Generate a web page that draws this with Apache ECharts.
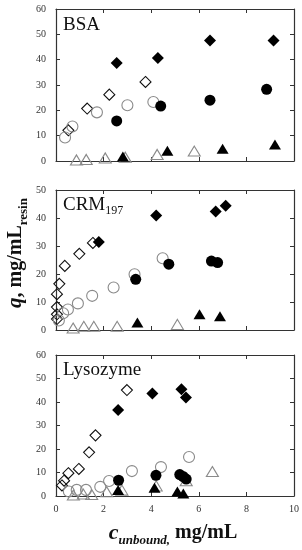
<!DOCTYPE html>
<html>
<head>
<meta charset="utf-8">
<script src="https://cdn.jsdelivr.net/npm/echarts@6/dist/echarts.min.js"></script>
<style>
html,body{margin:0;padding:0;background:#fff;}
#chart{width:302px;height:550px;}
</style>
</head>
<body>
<div id="chart"></div>
<script>
// ---------- data ([c_unbound, q]) ----------
var panelNames = ['BSA', 'CRM', 'Lysozyme'];
var yMaxes = [60, 50, 60];
var xTicks = [0, 2, 4, 6, 8, 10];

// BSA
var bsaOpenDiamond = [[0.52,12.1],[1.31,20.7],[2.24,26.2],[3.76,31.2]];
var bsaFilledDiamond = [[2.55,38.7],[4.28,40.7],[6.47,47.6],[9.14,47.6]];
var bsaOpenCircle = [[0.38,9.3],[0.69,13.6],[1.72,19.2],[3.0,22.0],[4.09,23.3]];
var bsaFilledCircle = [[2.55,15.8],[4.40,21.7],[6.47,24.0],[8.85,28.3]];
var bsaOpenTriangle = [[0.86,0.4],[1.27,0.6],[2.07,1.2],[2.91,1.5],[4.25,2.6],[5.81,3.9]];
var bsaFilledTriangle = [[2.81,1.8],[4.68,4.0],[7.0,4.8],[9.2,6.5]];

// CRM197
var crmOpenDiamond = [[0.04,3.9],[0.04,5.6],[0.04,8.2],[0.04,12.8],[0.14,16.5],[0.37,22.9],[0.98,27.2],[1.55,31.1]];
var crmFilledDiamond = [[1.80,31.4],[4.21,40.9],[6.71,42.3],[7.13,44.4]];
var crmOpenCircle = [[0.12,3.4],[0.3,6.0],[0.5,7.3],[0.92,9.5],[1.52,12.2],[2.42,15.2],[3.3,19.9],[4.48,25.6]];
var crmFilledCircle = [[3.35,18.1],[4.74,23.5],[6.53,24.6],[6.79,24.1]];
var crmOpenTriangle = [[0.72,0.7],[1.17,1.3],[1.59,1.3],[2.57,1.3],[5.1,2.0]];
var crmFilledTriangle = [[3.42,2.7],[6.03,5.6],[6.89,4.9]];

// Lysozyme
var lysOpenDiamond = [[0.25,4.5],[0.34,6.5],[0.52,9.7],[0.96,11.5],[1.39,18.6],[1.66,25.8],[2.98,45.1]];
var lysFilledDiamond = [[2.61,36.6],[4.05,43.6],[5.27,45.4],[5.46,41.9]];
var lysOpenCircle = [[0.54,1.9],[0.87,2.6],[1.26,2.6],[1.86,3.9],[2.23,6.4],[3.19,10.6],[4.41,12.3],[5.59,16.6]];
var lysFilledCircle = [[2.63,6.7],[4.2,8.8],[5.2,9.1],[5.34,8.3],[5.47,7.2]];
var lysOpenTriangle = [[0.73,0.4],[1.15,0.8],[1.5,0.6],[2.13,1.8],[2.77,2.5],[4.21,4.3],[5.47,6.5],[6.57,10.4]];
var lysFilledTriangle = [[2.61,2.6],[4.14,3.5],[5.1,1.9],[5.35,1.1]];

var panels = [
  [bsaOpenDiamond, bsaFilledDiamond, bsaOpenCircle, bsaFilledCircle, bsaOpenTriangle, bsaFilledTriangle],
  [crmOpenDiamond, crmFilledDiamond, crmOpenCircle, crmFilledCircle, crmOpenTriangle, crmFilledTriangle],
  [lysOpenDiamond, lysFilledDiamond, lysOpenCircle, lysFilledCircle, lysOpenTriangle, lysFilledTriangle]
];

// ---------- styling ----------
var SERIF = '"Liberation Serif", "Times New Roman", serif';
var AX = '#333';
var grids = [
  {left: 56, right: 8, top: 9, height: 152},
  {left: 56, right: 8, top: 190, height: 140},
  {left: 56, right: 8, top: 355, height: 141}
];
var markerStyles = [
  {symbol: 'diamond', size: 11, color: 'rgba(255,255,255,0)', border: '#111', bw: 1.1},
  {symbol: 'diamond', size: 12, color: '#000', border: '#000', bw: 0},
  {symbol: 'circle', size: 11, color: 'rgba(255,255,255,0)', border: '#8a8a8a', bw: 1.1},
  {symbol: 'circle', size: 11, color: '#000', border: '#000', bw: 0},
  {symbol: 'triangle', size: [12, 10], color: 'rgba(255,255,255,0)', border: '#8a8a8a', bw: 1.1},
  {symbol: 'triangle', size: [12, 10], color: '#000', border: '#000', bw: 0}
];

var xAxes = [], yAxes = [], series = [];
grids.forEach(function (g, i) {
  g.show = false;
  var tick = {show: true, inside: true, length: 4, lineStyle: {color: AX, width: 1}};
  var line = {show: true, onZero: false, lineStyle: {color: AX, width: 1.2}};
  xAxes.push({
    type: 'value', gridIndex: i, position: 'bottom', min: xTicks[0], max: xTicks[xTicks.length - 1], interval: 2,
    axisLine: line, axisTick: tick, splitLine: {show: false},
    axisLabel: {show: i === 2, color: '#333', fontFamily: SERIF, fontSize: 10, margin: 8}
  });
  xAxes.push({
    type: 'value', gridIndex: i, position: 'top', min: 0, max: 10, interval: 2,
    axisLine: line, axisTick: tick, splitLine: {show: false}, axisLabel: {show: false}
  });
  yAxes.push({
    type: 'value', gridIndex: i, position: 'left', min: 0, max: yMaxes[i], interval: 10,
    axisLine: line, axisTick: tick, splitLine: {show: false},
    axisLabel: {color: '#333', fontFamily: SERIF, fontSize: 10, margin: 10}
  });
  yAxes.push({
    type: 'value', gridIndex: i, position: 'right', min: 0, max: yMaxes[i], interval: 10,
    axisLine: line, axisTick: tick, splitLine: {show: false}, axisLabel: {show: false}
  });
  var order = [0, 2, 4, 1, 3, 5];
  order.forEach(function (k) {
    var m = markerStyles[k];
    series.push({
      type: 'scatter', xAxisIndex: i * 2, yAxisIndex: i * 2,
      data: panels[i][k], symbol: m.symbol, symbolSize: m.size,
      itemStyle: {color: m.color, borderColor: m.border, borderWidth: m.bw, opacity: 1},
      emphasis: {disabled: true}, silent: true
    });
  });
});

var chart = echarts.init(document.getElementById('chart'), null, {renderer: 'canvas'});
chart.setOption({
  animation: false,
  backgroundColor: '#fff',
  grid: grids,
  xAxis: xAxes,
  yAxis: yAxes,
  series: series,
  graphic: [
    {type: 'text', left: 63, top: 16, style: {text: 'BSA', font: '19px ' + SERIF, fill: '#111'}},
    {type: 'text', left: 63, top: 196, style: {
      text: '{a|CRM}{b|197}', fill: '#111',
      rich: {a: {fontFamily: SERIF, fontSize: 19, lineHeight: 20, fill: '#111'},
             b: {fontFamily: SERIF, fontSize: 12, lineHeight: 23, verticalAlign: 'bottom', fill: '#111'}}
    }},
    {type: 'text', left: 63, top: 361, style: {text: 'Lysozyme', font: '19px ' + SERIF, fill: '#111'}},
    {type: 'text', x: 16, y: 253, rotation: Math.PI / 2, style: {
      text: '{q|q}{m|, mg/mL}{s|resin}', align: 'center', verticalAlign: 'middle', fill: '#111',
      rich: {q: {fontFamily: SERIF, fontSize: 21, fontWeight: 'bold', fontStyle: 'italic', lineHeight: 22},
             m: {fontFamily: SERIF, fontSize: 20, fontWeight: 'bold', lineHeight: 22},
             s: {fontFamily: SERIF, fontSize: 13, fontWeight: 'bold', lineHeight: 28, verticalAlign: 'bottom'}}
    }},
    {type: 'text', x: 173, y: 533, style: {
      text: '{c|c}{s|unbound,}{m| mg/mL}', align: 'center', verticalAlign: 'middle', fill: '#111',
      rich: {c: {fontFamily: SERIF, fontSize: 22, fontWeight: 'bold', fontStyle: 'italic', lineHeight: 22},
             s: {fontFamily: SERIF, fontSize: 13, fontWeight: 'bold', fontStyle: 'italic', lineHeight: 28, verticalAlign: 'bottom'},
             m: {fontFamily: SERIF, fontSize: 20, fontWeight: 'bold', lineHeight: 22}}
    }}
  ]
});
</script>
</body>
</html>
